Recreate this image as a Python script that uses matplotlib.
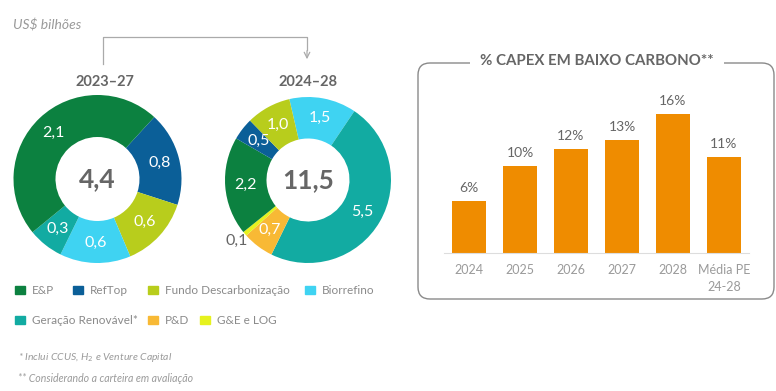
import numpy as np
import matplotlib
matplotlib.use("Agg")
import matplotlib.pyplot as plt
from matplotlib.patches import FancyBboxPatch, Rectangle

plt.rcParams['font.family'] = ['Lato', 'DejaVu Sans']

# === data ===
categories = ["E&P", "RefTop", "Fundo Descarbonização", "Biorrefino",
              "Geração Renovável*", "P&D", "G&E e LOG"]
colors = {"E&P": "#0c8140", "RefTop": "#0b5f98", "Fundo Descarbonização": "#b8cd1c",
          "Biorrefino": "#3fd3f2", "Geração Renovável*": "#12aba2",
          "P&D": "#f8b935", "G&E e LOG": "#e6f21e"}

# clockwise order of slices in each donut
d1_cats = ["RefTop", "Fundo Descarbonização", "Biorrefino", "Geração Renovável*", "E&P"]
d1_vals = [0.8, 0.6, 0.6, 0.3, 2.1]
d1_total = "4,4"
d1_title = "2023–27"

d2_cats = ["Biorrefino", "Geração Renovável*", "P&D", "G&E e LOG", "E&P", "RefTop",
           "Fundo Descarbonização"]
d2_vals = [1.5, 5.5, 0.7, 0.1, 2.2, 0.5, 1.0]
d2_total = "11,5"
d2_title = "2024–28"

bar_labels = ["2024", "2025", "2026", "2027", "2028", "Média PE\n24-28"]
bar_vals = [6, 10, 12, 13, 16, 11]

W, H = 776, 391
GRAY = "#666666"
LIGHT = "#9a9a9a"

fig = plt.figure(figsize=(W / 100, H / 100), dpi=100)


def px_axes(x0, y0, w, h):
    # axes placed by pixel box (top-left origin)
    return fig.add_axes([x0 / W, (H - y0 - h) / H, w / W, h / H])


def donut(cx, cy, r, cats, vals, startangle, total):
    ax = px_axes(cx - r, cy - r, 2 * r, 2 * r)
    wedges, _ = ax.pie(vals, colors=[colors[c] for c in cats], startangle=startangle,
                       counterclock=False, radius=1.0,
                       wedgeprops=dict(width=0.5, edgecolor="none"))
    ax.set_xlim(-1, 1)
    ax.set_ylim(-1, 1)
    ax.set_aspect("equal")
    for w, v in zip(wedges, vals):
        ang = np.deg2rad((w.theta1 + w.theta2) / 2)
        txt = f"{v:.1f}".replace(".", ",")
        if v < 0.2:
            ax.text(1.13 * np.cos(ang), 1.13 * np.sin(ang), txt, color=GRAY,
                    ha="center", va="center", fontsize=11.5)
        else:
            ax.text(0.76 * np.cos(ang), 0.76 * np.sin(ang), txt, color="white",
                    ha="center", va="center", fontsize=11.5)
    ax.text(0, 0, total, ha="center", va="center", fontsize=19,
            fontweight="bold", color=GRAY)
    return ax


donut(97.5, 179, 84, d1_cats, d1_vals, 47.5, d1_total)
donut(308, 180, 83, d2_cats, d2_vals, 103, d2_total)

# === bar chart ===
bax = px_axes(443.5, 79, 306, 174)
x = np.arange(len(bar_vals))
bax.bar(x, bar_vals, width=0.65, color="#ef8c00")
for xi, v in zip(x, bar_vals):
    bax.text(xi, v + 0.8, f"{v}%", ha="center", va="bottom", fontsize=10, color=GRAY)
bax.set_xlim(-0.5, len(bar_vals) - 0.5)
bax.set_ylim(0, 20)
bax.set_xticks(x)
bax.set_xticklabels(bar_labels, fontsize=9, color=LIGHT, linespacing=1.5)
bax.tick_params(axis="x", length=0, pad=8)
bax.set_yticks([])
for s in ["top", "left", "right"]:
    bax.spines[s].set_visible(False)
bax.spines["bottom"].set_color("#dddddd")
bax.patch.set_alpha(0)

# === overlay for annotations ===
ov = fig.add_axes([0, 0, 1, 1], zorder=10)
ov.set_xlim(0, W)
ov.set_ylim(H, 0)
ov.axis("off")
ov.patch.set_alpha(0)

ov.text(13, 25, "US$ bilhões", fontsize=10, style="italic", color=LIGHT, va="center")
ov.text(105, 82, d1_title, fontsize=10.5, fontweight="bold", color=GRAY, ha="center", va="center")
ov.text(308, 82, d2_title, fontsize=10.5, fontweight="bold", color=GRAY, ha="center", va="center")

ov.plot([103, 103, 307, 307], [64, 37, 37, 50], color="#aaaaaa", lw=0.9)
ov.annotate("", xy=(307, 62), xytext=(307, 48),
            arrowprops=dict(arrowstyle="->", color="#aaaaaa", lw=0.9))

# rounded box
box = FancyBboxPatch((418, 63), 356, 236, boxstyle="round,pad=0,rounding_size=12",
                     fc="none", ec="#8a8a8a", lw=1)
ov.add_patch(box)
ov.text(597, 61, "% CAPEX EM BAIXO CARBONO**", fontsize=10.8, fontweight="bold",
        color=GRAY, ha="center", va="center",
        bbox=dict(fc="white", ec="none", pad=7))

# legend
leg_pos = [(15, 290), (73, 290), (148, 290), (305, 290),
           (15, 320), (148, 320), (200, 320)]
for c, (lx, ly) in zip(categories, leg_pos):
    ov.add_patch(Rectangle((lx, ly - 4), 10, 8, color=colors[c]))
    ov.text(lx + 17, ly, c, fontsize=8.5, color="#8a8a8a", va="center")

ov.text(18, 358, "* Inclui CCUS, H$_2$ e Venture Capital", fontsize=7.5,
        style="italic", color=LIGHT, va="center")
ov.text(18, 378, "** Considerando a carteira em avaliação", fontsize=7.6,
        style="italic", color=LIGHT, va="center")

fig.savefig("out.png", dpi=100)
